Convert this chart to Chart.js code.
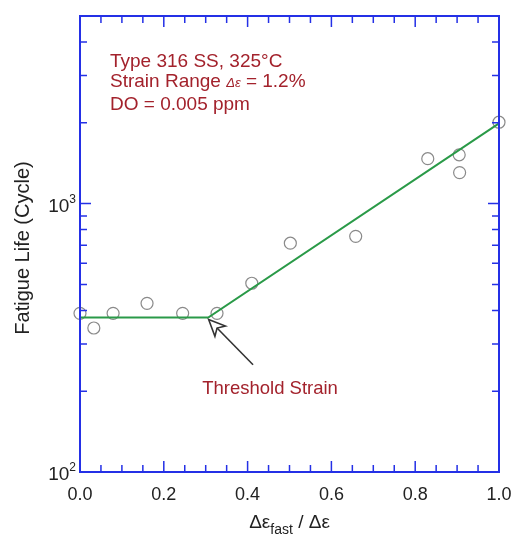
<!DOCTYPE html>
<html>
<head>
<meta charset="utf-8">
<script src="https://cdn.jsdelivr.net/npm/chart.js@4/dist/chart.umd.min.js"></script>
<style>
  html, body { margin: 0; padding: 0; background: #fff; }
  #wrap { width: 517px; height: 537px; position: relative; }
</style>
</head>
<body>
<div id="wrap"><canvas id="fatigueChart"></canvas></div>
<script>
// measured fatigue lives vs. fraction of fast strain
const strainRatio = [0.0, 0.033, 0.079, 0.16, 0.245, 0.327, 0.41, 0.502, 0.658, 0.83, 0.905, 0.906, 1.0];
const fatigueLife = [390, 344, 390, 425, 390, 390, 505, 712, 755, 1470, 1520, 1305, 2010];

// bilinear fit: flat below the threshold, log-linear above
const fitX = [0.0, 0.306, 1.0];
const fitY = [376, 376, 1990];

const xTickLabels = ['0.0', '0.2', '0.4', '0.6', '0.8', '1.0'];
const yDecades = [100, 1000];

const BLUE = '#2430e6';
const RED = '#a3222c';
const FONT = '"Liberation Sans", Arial, sans-serif';

const frameAndLabels = {
  id: 'frameAndLabels',
  afterDatasetsDraw(chart) {
    const { ctx, chartArea: a, scales: { x, y } } = chart;
    ctx.save();

    // inward tick marks on all four sides
    ctx.strokeStyle = BLUE;
    ctx.lineWidth = 1.5;
    ctx.beginPath();
    for (let i = 0; i <= 20; i++) {
      const v = i * 0.05;
      const px = x.getPixelForValue(v);
      const len = (i % 4 === 0) ? 11 : 7;
      ctx.moveTo(px, a.bottom); ctx.lineTo(px, a.bottom - len);
      ctx.moveTo(px, a.top); ctx.lineTo(px, a.top + len);
    }
    for (let d = 100; d < 10000; d *= 10) {
      for (let m = 1; m <= 9; m++) {
        const v = d * m;
        if (v < y.min || v > y.max) continue;
        const py = y.getPixelForValue(v);
        const len = (m === 1) ? 11 : 7;
        ctx.moveTo(a.left, py); ctx.lineTo(a.left + len, py);
        ctx.moveTo(a.right, py); ctx.lineTo(a.right - len, py);
      }
    }
    ctx.stroke();

    ctx.lineWidth = 2;
    ctx.strokeRect(a.left, a.top, a.right - a.left, a.bottom - a.top);

    // x tick labels
    ctx.fillStyle = '#222';
    ctx.font = '18px ' + FONT;
    ctx.textAlign = 'center';
    ctx.textBaseline = 'middle';
    xTickLabels.forEach(t => {
      ctx.fillText(t, x.getPixelForValue(parseFloat(t)), a.bottom + 23);
    });

    // y decade labels with superscript exponents
    yDecades.forEach(v => {
      const py = y.getPixelForValue(v);
      const exp = String(Math.round(Math.log10(v)));
      ctx.font = '12px ' + FONT;
      const ew = ctx.measureText(exp).width;
      ctx.textAlign = 'right';
      ctx.textBaseline = 'alphabetic';
      ctx.fillText(exp, a.left - 4, py - 1);
      ctx.font = '19px ' + FONT;
      ctx.fillText('10', a.left - 4 - ew, py + 8);
    });

    // axis titles
    const cx = (a.left + a.right) / 2;
    ctx.textAlign = 'left';
    ctx.font = '19px ' + FONT;
    const p1 = 'Δε', p2 = 'fast', p3 = ' / Δε';
    const w1 = ctx.measureText(p1).width, w3 = ctx.measureText(p3).width;
    ctx.font = '14px ' + FONT;
    const w2 = ctx.measureText(p2).width;
    let tx = cx - (w1 + w2 + w3) / 2;
    const ty = a.bottom + 56;
    ctx.font = '19px ' + FONT;
    ctx.fillText(p1, tx, ty);
    ctx.font = '14px ' + FONT;
    ctx.fillText(p2, tx + w1, ty + 6);
    ctx.font = '19px ' + FONT;
    ctx.fillText(p3, tx + w1 + w2, ty);

    ctx.save();
    ctx.translate(29, (a.top + a.bottom) / 2 + 4);
    ctx.rotate(-Math.PI / 2);
    ctx.textAlign = 'center';
    ctx.font = '20px ' + FONT;
    ctx.fillText('Fatigue Life (Cycle)', 0, 0);
    ctx.restore();

    // condition notes
    ctx.fillStyle = RED;
    ctx.textAlign = 'left';
    ctx.font = '19px ' + FONT;
    const nx = a.left + 30;
    ctx.fillText('Type 316 SS, 325°C', nx, a.top + 51);
    let sx = nx;
    const s1 = 'Strain Range ';
    ctx.fillText(s1, sx, a.top + 71);
    sx += ctx.measureText(s1).width;
    ctx.font = 'italic 13px ' + FONT;
    ctx.fillText('Δε', sx, a.top + 71);
    sx += ctx.measureText('Δε').width;
    ctx.font = '19px ' + FONT;
    ctx.fillText(' = 1.2%', sx, a.top + 71);
    ctx.fillText('DO = 0.005 ppm', nx, a.top + 94);

    // threshold arrow
    const tip = { x: x.getPixelForValue(0.307), y: y.getPixelForValue(370) };
    const tail = { x: x.getPixelForValue(0.413), y: y.getPixelForValue(251) };
    const ang = Math.atan2(tip.y - tail.y, tip.x - tail.x);
    ctx.strokeStyle = '#333';
    ctx.lineWidth = 1.6;
    const L = 18, W = 0.42, N = 12;
    const back = { x: tip.x - N * Math.cos(ang), y: tip.y - N * Math.sin(ang) };
    ctx.beginPath();
    ctx.moveTo(tail.x, tail.y);
    ctx.lineTo(back.x, back.y);
    ctx.stroke();
    ctx.beginPath();
    ctx.moveTo(tip.x, tip.y);
    ctx.lineTo(tip.x - L * Math.cos(ang - W), tip.y - L * Math.sin(ang - W));
    ctx.lineTo(back.x, back.y);
    ctx.lineTo(tip.x - L * Math.cos(ang + W), tip.y - L * Math.sin(ang + W));
    ctx.closePath();
    ctx.stroke();

    ctx.fillStyle = RED;
    ctx.textAlign = 'center';
    ctx.font = '18.5px ' + FONT;
    ctx.fillText('Threshold Strain', tail.x + 17, tail.y + 29);

    ctx.restore();
  }
};

new Chart(document.getElementById('fatigueChart'), {
  type: 'scatter',
  data: {
    datasets: [
      {
        label: 'Fit',
        type: 'line',
        data: fitX.map((v, i) => ({ x: v, y: fitY[i] })),
        borderColor: '#2a9a48',
        borderWidth: 2,
        pointRadius: 0,
        fill: false,
        tension: 0,
        clip: false
      },
      {
        label: 'Test data',
        data: strainRatio.map((v, i) => ({ x: v, y: fatigueLife[i] })),
        pointRadius: 6,
        pointBorderColor: '#8a8a8a',
        pointBorderWidth: 1.2,
        pointBackgroundColor: 'rgba(0,0,0,0)',
        clip: false
      }
    ]
  },
  options: {
    responsive: true,
    maintainAspectRatio: false,
    animation: false,
    layout: { padding: { left: 80, top: 16, right: 18, bottom: 65 } },
    plugins: { legend: { display: false }, tooltip: { enabled: false } },
    scales: {
      x: { type: 'linear', min: 0, max: 1, display: false },
      y: { type: 'logarithmic', min: 100, max: 5000, display: false }
    }
  },
  plugins: [frameAndLabels]
});
</script>
</body>
</html>
